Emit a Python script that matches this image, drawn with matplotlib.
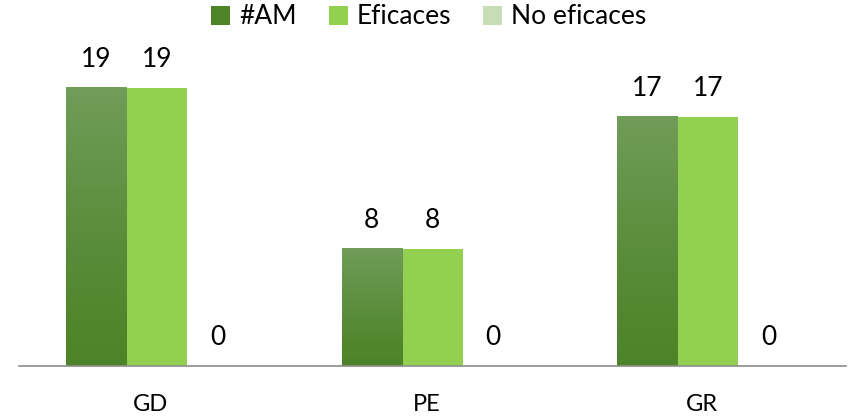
import numpy as np
import matplotlib
matplotlib.use("Agg")
import matplotlib.pyplot as plt
from matplotlib.patches import Patch
from matplotlib.colors import LinearSegmentedColormap

plt.rcParams['font.family'] = ['Lato', 'DejaVu Sans']

categories = ["GD", "PE", "GR"]
series_names = ["#AM", "Eficaces", "No eficaces"]
am_values = [19, 8, 17]
eficaces_values = [19, 8, 17]
no_eficaces_values = [0, 0, 0]

W, H = 848, 419
fig = plt.figure(figsize=(W / 100, H / 100), dpi=100)
ax = fig.add_axes([19 / W, (H - 366) / H, (846 - 19) / W, (366 - 73) / H])

x = np.arange(len(categories))
bw = 0.22
ax.set_xlim(-0.5, len(categories) - 0.5)
ax.set_ylim(0, 20)

am_top, am_bot = "#709d5a", "#4e8429"
eff_col = "#92d050"
no_top, no_bot = "#c6ddb6", "#9fc088"

series = [
    (am_values, -bw, am_top, am_bot),
    (eficaces_values, 0.0, eff_col, eff_col),
    (no_eficaces_values, bw, no_top, no_bot),
]

for vals, off, ctop, cbot in series:
    bars = ax.bar(x + off, vals, width=bw, color=cbot, linewidth=0, zorder=2)
    if ctop != cbot:
        cmap = LinearSegmentedColormap.from_list("g", [cbot, ctop])
        grad = np.linspace(0, 1, 256).reshape(-1, 1) ** 1.3
        for b in bars:
            if b.get_height() <= 0:
                continue
            x0, w, h = b.get_x(), b.get_width(), b.get_height()
            ax.imshow(grad, cmap=cmap, origin="lower", aspect="auto",
                      extent=(x0, x0 + w, 0, h), zorder=2.5,
                      interpolation="bilinear")
    for b, v in zip(bars, vals):
        ax.annotate(str(v), (b.get_x() + b.get_width() / 2, v),
                    xytext=(0, 21), textcoords="offset pixels",
                    ha="center", va="baseline", fontsize=19, color="#000000")

# keep the data range fixed after imshow
ax.set_xlim(-0.5, len(categories) - 0.5)
ax.set_ylim(0, 20)

for xi, name in zip(x, categories):
    ax.annotate(name, (xi, 0), xytext=(-6, -45), textcoords="offset pixels",
                ha="center", va="baseline", fontsize=17, color="#000000")

for side in ["top", "right", "left"]:
    ax.spines[side].set_visible(False)
ax.spines["bottom"].set_color("#8c8c8c")
ax.spines["bottom"].set_linewidth(1.2)
ax.set_xticks([])
ax.set_yticks([])
ax.patch.set_visible(False)

handles = [
    Patch(facecolor=am_bot, edgecolor="none"),
    Patch(facecolor=eff_col, edgecolor="none"),
    Patch(facecolor=no_top, edgecolor="none"),
]
fig.legend(handles, series_names, loc="center", bbox_to_anchor=(0.506, 1 - 17 / H),
           ncol=3, frameon=False, fontsize=19, handlelength=0.72, handleheight=0.72,
           handletextpad=0.35, columnspacing=1.2, borderpad=0)

fig.savefig("out.png", dpi=100)
